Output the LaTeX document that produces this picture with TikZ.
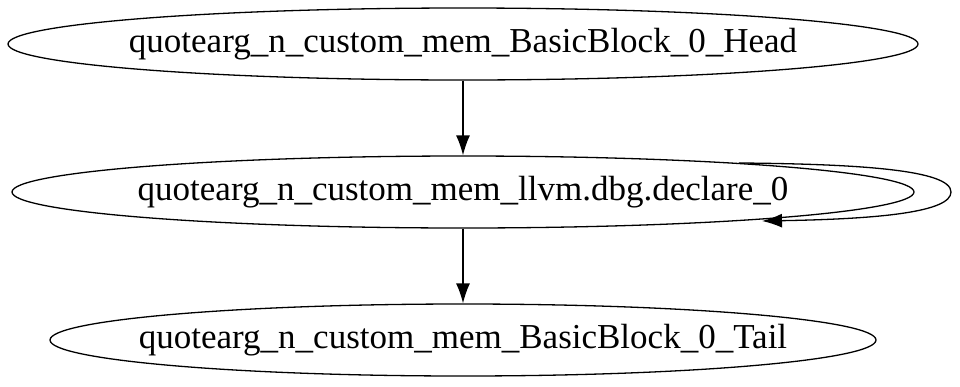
\documentclass[tikz,border=0pt]{standalone}
\usepackage{fontspec}
\setmainfont{Liberation Serif}
\usetikzlibrary{shapes.geometric,arrows.meta}
% label of zero width, so the ellipse keeps its given size
\newcommand{\lbl}[1]{\makebox[0pt]{#1}}
\begin{document}
\begin{tikzpicture}[x=1pt,y=-1pt,
  block/.style={draw,ellipse,line width=1.3pt,inner sep=0pt,font=\fontsize{35}{40}\selectfont},
  edge/.style={line width=1.3pt,-{Latex[length=20pt,width=14pt]}}]
  \useasboundingbox (0,0) rectangle (960,386);
  \node[block,minimum width=910pt,minimum height=72pt] (head) at (463,44) {\lbl{quotearg\_n\_custom\_mem\_BasicBlock\_0\_Head}};
  \node[block,minimum width=902pt,minimum height=72pt] (decl) at (463,192) {\lbl{quotearg\_n\_custom\_mem\_llvm.dbg.declare\_0}};
  \node[block,minimum width=826pt,minimum height=72pt] (tail) at (463,340) {\lbl{quotearg\_n\_custom\_mem\_BasicBlock\_0\_Tail}};
  \draw[edge] (head) -- (decl);
  \draw[edge] (decl) -- (tail);
  % self loop on the declare node
  \coordinate (loopout) at (951,192);
  \draw[line width=1.3pt] (decl.6.7) .. controls (860,164) and (951,170) .. (loopout);
  \draw[edge] (loopout) .. controls (951,212) and (880,219) .. (762,221);
\end{tikzpicture}
\end{document}
